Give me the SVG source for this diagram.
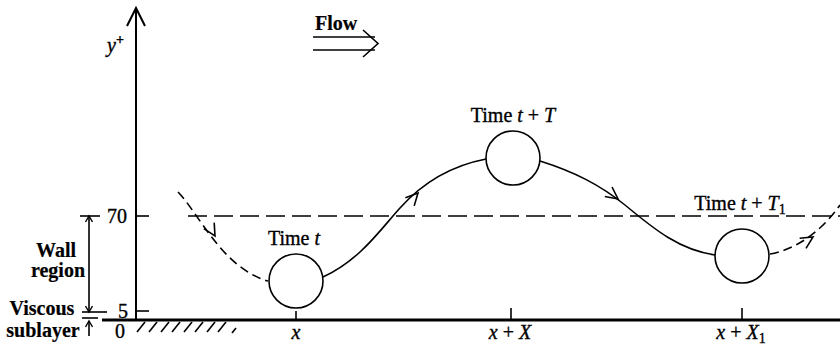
<svg xmlns="http://www.w3.org/2000/svg" width="840" height="345" viewBox="0 0 840 345">
<style>
  .ln{fill:none;stroke:#000;stroke-width:1.6}
  .ax{fill:none;stroke:#000;stroke-width:2}
  .dsh{fill:none;stroke:#000;stroke-width:1.6;stroke-dasharray:9 5}
  .hd{fill:none;stroke:#000;stroke-width:1.6;stroke-dasharray:19 7}
  .bub{fill:#fff;stroke:#000;stroke-width:1.6}
  text{font-family:"Liberation Serif","Times New Roman",serif;font-size:20px;fill:#000;stroke:#000;stroke-width:0.35}
  .b{font-weight:bold;stroke-width:0.2}
  .i{font-style:italic}
</style>
<defs>
  <path id="chev" d="M-12,-6 L0,0 L-12,6" fill="none" stroke="#000" stroke-width="1.6"/>
  <path id="chs" d="M-6,-3.5 L0,0 L-6,3.5" fill="none" stroke="#000" stroke-width="1.4"/>
</defs>

<!-- axes -->
<g id="axes">
  <line class="ax" x1="136" y1="8" x2="136" y2="320"/>
  <path class="ax" d="M127,26 L136,8 L145,26"/>
  <line x1="102" y1="320" x2="840" y2="320" stroke="#000" stroke-width="3"/>
  <line class="ln" x1="136" y1="216" x2="149" y2="216"/>
  <line class="ln" x1="136" y1="311" x2="149" y2="311"/>
  <line class="ln" x1="296" y1="311" x2="296" y2="320"/>
  <line class="ln" x1="511" y1="308" x2="511" y2="320"/>
  <line class="ln" x1="742" y1="308" x2="742" y2="320"/>
  <g stroke="#000" stroke-width="1.6">
    <line x1="137" y1="332" x2="145" y2="322"/>
    <line x1="149" y1="332" x2="157" y2="322"/>
    <line x1="161" y1="332" x2="169" y2="322"/>
    <line x1="172" y1="332" x2="180" y2="322"/>
    <line x1="184" y1="332" x2="192" y2="322"/>
    <line x1="195" y1="332" x2="203" y2="322"/>
    <line x1="207" y1="332" x2="215" y2="322"/>
    <line x1="218" y1="332" x2="226" y2="322"/>
    <line x1="232" y1="333" x2="236" y2="328"/>
  </g>
  <line class="hd" x1="188" y1="216" x2="840" y2="216"/>
  <text x="107" y="52" class="i">y<tspan font-style="normal" font-weight="bold" font-size="14" dy="-8">+</tspan></text>
  <text x="107" y="223">70</text>
  <text x="118" y="318">5</text>
  <text x="115" y="338">0</text>
  <text x="296" y="339" class="i" text-anchor="middle">x</text>
  <text x="510" y="339" text-anchor="middle"><tspan class="i">x</tspan> + <tspan class="i">X</tspan></text>
  <text x="741" y="339" text-anchor="middle"><tspan class="i">x</tspan> + <tspan class="i">X</tspan><tspan font-size="14" dy="4">1</tspan></text>
</g>

<!-- flow arrow -->
<g id="flow">
  <text x="315" y="30" class="b">Flow</text>
  <line class="ln" x1="313" y1="37" x2="375" y2="37"/>
  <line class="ln" x1="313" y1="50" x2="375" y2="50"/>
  <path class="ln" d="M363,30 L378,43.5 L363,57"/>
</g>

<!-- wall region / viscous sublayer -->
<g id="wall-region">
  <line class="ln" x1="80" y1="216" x2="100" y2="216"/>
  <line class="ln" x1="82" y1="312" x2="107" y2="312"/>
  <line class="ln" x1="89" y1="216" x2="89" y2="312"/>
  <use href="#chs" transform="translate(89,216) rotate(-90)"/>
  <use href="#chs" transform="translate(89,312) rotate(90)"/>
  <text x="56" y="257" class="b" text-anchor="middle">Wall</text>
  <text x="58" y="277" class="b" text-anchor="middle">region</text>
</g>
<g id="viscous-sublayer">
  <line class="ln" x1="82" y1="318" x2="98" y2="318"/>
  <line class="ln" x1="89" y1="321" x2="89" y2="336"/>
  <use href="#chs" transform="translate(89,321) rotate(-90)"/>
  <text x="42" y="315" class="b" text-anchor="middle">Viscous</text>
  <text x="43" y="337" class="b" text-anchor="middle">sublayer</text>
</g>

<!-- connectors -->
<g id="connectors">
  <path class="dsh" d="M178,192 C198,212 222,268 268,281"/>
  <use href="#chev" transform="translate(215,236) rotate(60)"/>
  <path class="ln" d="M323,277 C360,260 380,230 400,208 C425,180 455,165 486,159"/>
  <use href="#chev" transform="translate(418,193) rotate(-47)"/>
  <path class="ln" d="M540,161 C575,172 600,185 625,205 C655,230 680,250 715,255"/>
  <use href="#chev" transform="translate(618,199) rotate(37)"/>
  <path class="dsh" d="M770,254 C792,250 818,236 840,205"/>
  <use href="#chev" transform="translate(813,237) rotate(-32)"/>
</g>

<!-- nodes -->
<g id="node-t">
  <circle class="bub" cx="296" cy="281" r="27"/>
  <text x="294" y="245" text-anchor="middle">Time <tspan class="i">t</tspan></text>
</g>
<g id="node-tT">
  <circle class="bub" cx="513" cy="158" r="27"/>
  <text x="513" y="122" text-anchor="middle">Time <tspan class="i">t</tspan> + <tspan class="i">T</tspan></text>
</g>
<g id="node-tT1">
  <circle class="bub" cx="742" cy="256" r="27"/>
  <text x="740" y="210" text-anchor="middle">Time <tspan class="i">t</tspan> + <tspan class="i">T</tspan><tspan font-size="14" dy="4">1</tspan></text>
</g>
</svg>
